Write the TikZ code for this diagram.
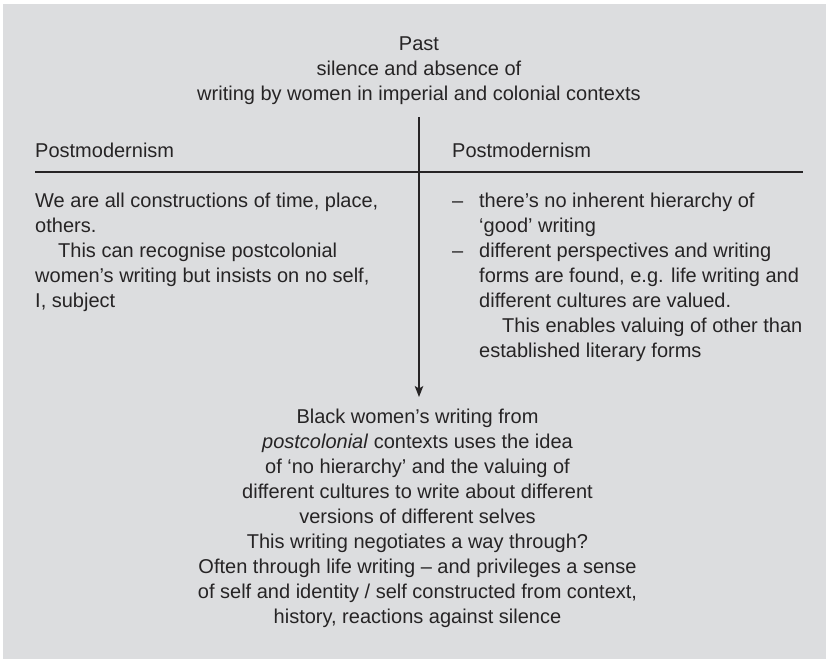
\documentclass[tikz,border=0pt]{standalone}
\usepackage{fontspec}
\setmainfont{Liberation Sans}
\usetikzlibrary{arrows.meta}
\definecolor{panel}{HTML}{DCDDDF}
\definecolor{ink}{HTML}{262425}
\begin{document}
\begin{tikzpicture}[x=1pt,y=-1pt,
  txt/.style={inner sep=0pt, anchor=base, text=ink, font=\fontsize{20}{25}\selectfont},
  rule/.style={draw=ink, line width=1.2pt},
  flow/.style={rule, -{Stealth[length=11pt,width=8.5pt,inset=2.5pt]}}]
  % page and grey panel
  \useasboundingbox (0,0) rectangle (826,659);
  \fill[white] (0,0) rectangle (826,659);
  \fill[panel] (3,4) rectangle (826,659);

  % heading
  \node[txt] (top) at (419,50) {\parbox[t]{640pt}{\centering
    Past\\
    silence and absence of\\
    writing by women in imperial and colonial contexts}};

  % column headings and rule
  \node[txt, anchor=base west] (pmL) at (35,157) {Postmodernism};
  \node[txt, anchor=base west] (pmR) at (452,157) {Postmodernism};
  \coordinate (ruleL) at (35,172);
  \coordinate (ruleR) at (803,172);
  \draw[rule] (ruleL) -- (ruleR);

  % left column
  \node[txt, anchor=base west] (left) at (35,207) {\parbox[t]{380pt}{\raggedright
    We are all constructions of time, place,\\
    others.\\
    \hspace*{23pt}This can recognise postcolonial\\
    women’s writing but insists on no self,\\
    I, subject}};

  % right column
  \node[txt, anchor=base west] (right) at (452,207) {\parbox[t]{365pt}{\raggedright
    \makebox[27pt][l]{–}there’s no inherent hierarchy of\\
    \hspace*{27pt}‘good’ writing\\
    \makebox[27pt][l]{–}different perspectives and writing\\
    \hspace*{27pt}forms are found, e.g. life writing and\\
    \hspace*{27pt}different cultures are valued.\\
    \hspace*{50pt}This enables valuing of other than\\
    \hspace*{27pt}established literary forms}};

  % outcome
  \node[txt] (bottom) at (417.5,423) {\parbox[t]{640pt}{\centering
    Black women’s writing from\\
    \textit{postcolonial} contexts uses the idea\\
    of ‘no hierarchy’ and the valuing of\\
    different cultures to write about different\\
    versions of different selves\\
    This writing negotiates a way through?\\
    Often through life writing – and privileges a sense\\
    of self and identity / self constructed from context,\\
    history, reactions against silence}};

  % central stem dividing the columns and leading to the outcome
  \coordinate (stemtop) at (419,117);
  \coordinate (stemtip) at (419,397);
  \draw[flow] (stemtop) -- (stemtip);
\end{tikzpicture}
\end{document}
